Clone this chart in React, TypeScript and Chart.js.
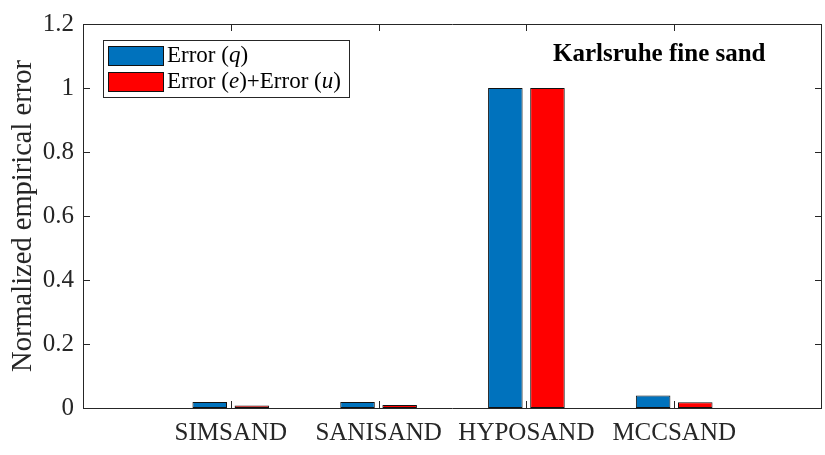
import React, { useEffect, useRef } from "react";
import { Chart, registerables } from "chart.js";

Chart.register(...registerables);

// ---- Data ----
const categories = ["SIMSAND", "SANISAND", "HYPOSAND", "MCCSAND"];
const errorQ = [0.019, 0.019, 1.0, 0.039];
const errorEU = [0.008, 0.009, 1.0, 0.018];
const yTicks = [0, 0.2, 0.4, 0.6, 0.8, 1, 1.2];
const seriesNames = ["Error (q)", "Error (e)+Error (u)"];
const annotationText = "Karlsruhe fine sand";
const yTitle = "Normalized empirical error";

const FONT = '"Liberation Serif", "Times New Roman", serif';
const AXIS = "#262626";
const BLUE = "#0072BD";
const RED = "#FF0000";
const EDGE = "#111";

// legend text segments: [text, italic]
const legendSegments: [string, boolean][][] = [
  [["Error (", false], ["q", true], [")", false]],
  [["Error (", false], ["e", true], [")+Error (", false], ["u", true], [")", false]],
];

const decorPlugin = {
  id: "decor",
  afterDatasetsDraw(chart: any) {
    const ctx = chart.ctx as CanvasRenderingContext2D;
    const { left, right, top, bottom } = chart.chartArea;
    const xs = chart.scales.x;
    const ys = chart.scales.y;
    ctx.save();
    // frame
    ctx.strokeStyle = AXIS;
    ctx.lineWidth = 1;
    ctx.beginPath();
    ctx.rect(Math.round(left) + 0.5, Math.round(top) + 0.5, Math.round(right - left) - 1, Math.round(bottom - top));
    ctx.stroke();
    // ticks
    const tl = 7;
    ctx.beginPath();
    yTicks.forEach((v) => {
      const y = Math.round(ys.getPixelForValue(v)) + 0.5;
      ctx.moveTo(left, y);
      ctx.lineTo(left + tl, y);
      ctx.moveTo(right, y);
      ctx.lineTo(right - tl, y);
    });
    categories.forEach((_, i) => {
      const x = Math.round(xs.getPixelForValue(i + 1)) + 0.5;
      ctx.moveTo(x, bottom);
      ctx.lineTo(x, bottom - tl);
      ctx.moveTo(x, top);
      ctx.lineTo(x, top + tl);
    });
    ctx.stroke();

    // y title
    ctx.fillStyle = AXIS;
    ctx.font = `28.5px ${FONT}`;
    ctx.textAlign = "center";
    ctx.textBaseline = "middle";
    ctx.save();
    ctx.translate(24, (top + bottom) / 2);
    ctx.rotate(-Math.PI / 2);
    ctx.fillText(yTitle, 0, 0);
    ctx.restore();

    // annotation
    ctx.fillStyle = "#000";
    ctx.font = `bold 25px ${FONT}`;
    ctx.textAlign = "left";
    ctx.textBaseline = "alphabetic";
    ctx.fillText(annotationText, xs.getPixelForValue(3.18), ys.getPixelForValue(1.083));

    // legend
    const lx = left + 20;
    const ly = top + 16;
    const lw = 246;
    const lh = 57;
    ctx.fillStyle = "#fff";
    ctx.fillRect(lx, ly, lw, lh);
    ctx.strokeStyle = AXIS;
    ctx.strokeRect(Math.round(lx) + 0.5, Math.round(ly) + 0.5, lw, lh);
    const colors = [BLUE, RED];
    legendSegments.forEach((segs, i) => {
      const sy = ly + 6 + i * 26;
      ctx.fillStyle = colors[i];
      ctx.fillRect(lx + 5, sy, 55, 19);
      ctx.strokeStyle = EDGE;
      ctx.strokeRect(Math.round(lx + 5) + 0.5, Math.round(sy) + 0.5, 55, 19);
      let tx = lx + 64;
      const ty = sy + 10;
      ctx.fillStyle = "#000";
      ctx.textBaseline = "middle";
      segs.forEach(([t, it]) => {
        ctx.font = `${it ? "italic " : ""}23px ${FONT}`;
        ctx.fillText(t, tx, ty);
        tx += ctx.measureText(t).width;
      });
    });
    ctx.restore();
  },
};

export default function App() {
  const ref = useRef<HTMLCanvasElement | null>(null);
  useEffect(() => {
    if (!ref.current) return;
    const chart = new Chart(ref.current, {
      type: "bar",
      data: {
        datasets: [
          {
            label: seriesNames[0],
            data: categories.map((_, i) => ({ x: i + 1, y: errorQ[i] })),
            backgroundColor: BLUE,
            borderColor: EDGE,
            borderWidth: 1,
            borderSkipped: false,
          },
          {
            label: seriesNames[1],
            data: categories.map((_, i) => ({ x: i + 1, y: errorEU[i] })),
            backgroundColor: RED,
            borderColor: EDGE,
            borderWidth: 1,
            borderSkipped: false,
          },
        ],
      },
      options: {
        responsive: false,
        animation: false,
        events: [],
        layout: { padding: { left: 0, top: 19, right: 3, bottom: 0 } },
        datasets: { bar: { categoryPercentage: 0.57, barPercentage: 0.82 } },
        plugins: { legend: { display: false }, tooltip: { enabled: false } },
        scales: {
          x: {
            type: "linear",
            min: 0,
            max: 5,
            offset: false,
            grid: { display: false, drawTicks: false, offset: false },
            border: { display: false },
            afterBuildTicks: (axis: any) => {
              axis.ticks = categories.map((_, i) => ({ value: i + 1 }));
            },
            afterFit: (axis: any) => {
              axis.height = 47;
            },
            ticks: {
              autoSkip: false,
              maxRotation: 0,
              padding: 10,
              color: AXIS,
              font: { family: FONT, size: 25 },
              callback: (v: any) => categories[Math.round(Number(v)) - 1] ?? "",
            },
          },
          y: {
            min: 0,
            max: 1.2,
            grid: { display: false, drawTicks: false },
            border: { display: false },
            afterBuildTicks: (axis: any) => {
              axis.ticks = yTicks.map((v) => ({ value: v }));
            },
            afterFit: (axis: any) => {
              axis.width = 83;
            },
            ticks: {
              padding: 9,
              color: AXIS,
              font: { family: FONT, size: 25 },
              callback: (v: any) => String(Number(Number(v).toFixed(1))),
            },
          },
        },
      },
      plugins: [decorPlugin],
    } as any);
    return () => chart.destroy();
  }, []);
  return (
    <div style={{ position: "fixed", left: 0, top: 0, width: 825, height: 455, background: "#fff" }}>
      <canvas ref={ref} width={825} height={455} style={{ display: "block" }} />
    </div>
  );
}
